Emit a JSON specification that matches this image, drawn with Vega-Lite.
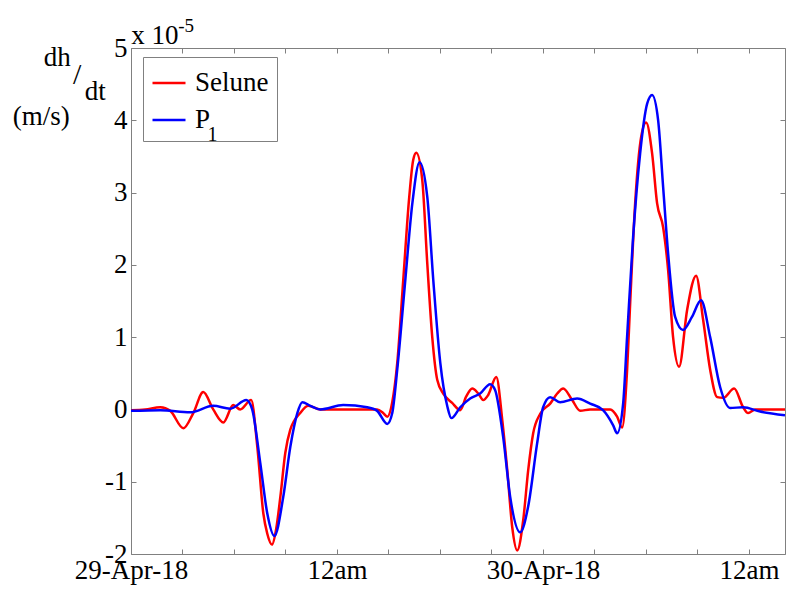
{
  "$schema": "https://vega.github.io/schema/vega-lite/v6.json",
  "width": 654,
  "height": 506,
  "autosize": {"type": "none"},
  "padding": {"left": 131, "top": 48, "right": 1, "bottom": 36},
  "background": "white",
  "config": {
    "font": "Liberation Serif",
    "view": {"stroke": null},
    "axis": {
      "grid": false,
      "domainColor": "#808080",
      "tickColor": "#808080",
      "labelColor": "black",
      "labelFont": "Liberation Serif",
      "labelFontSize": 27,
      "title": null
    }
  },
  "datasets": {
    "series": [
      {"hour": 0, "dhdt_1e5": -0.01, "series": "Selune"},
      {"hour": 0.83, "dhdt_1e5": 0.0, "series": "Selune"},
      {"hour": 1.71, "dhdt_1e5": 0.03, "series": "Selune"},
      {"hour": 2.29, "dhdt_1e5": -0.02, "series": "Selune"},
      {"hour": 3.05, "dhdt_1e5": -0.26, "series": "Selune"},
      {"hour": 3.63, "dhdt_1e5": -0.05, "series": "Selune"},
      {"hour": 4.21, "dhdt_1e5": 0.24, "series": "Selune"},
      {"hour": 4.79, "dhdt_1e5": 0.0, "series": "Selune"},
      {"hour": 5.38, "dhdt_1e5": -0.18, "series": "Selune"},
      {"hour": 5.96, "dhdt_1e5": 0.06, "series": "Selune"},
      {"hour": 6.36, "dhdt_1e5": 0.0, "series": "Selune"},
      {"hour": 7.0, "dhdt_1e5": 0.13, "series": "Selune"},
      {"hour": 7.36, "dhdt_1e5": -0.52, "series": "Selune"},
      {"hour": 7.71, "dhdt_1e5": -1.44, "series": "Selune"},
      {"hour": 7.94, "dhdt_1e5": -1.72, "series": "Selune"},
      {"hour": 8.21, "dhdt_1e5": -1.87, "series": "Selune"},
      {"hour": 8.46, "dhdt_1e5": -1.65, "series": "Selune"},
      {"hour": 8.7, "dhdt_1e5": -1.21, "series": "Selune"},
      {"hour": 8.99, "dhdt_1e5": -0.6, "series": "Selune"},
      {"hour": 9.28, "dhdt_1e5": -0.28, "series": "Selune"},
      {"hour": 9.86, "dhdt_1e5": -0.05, "series": "Selune"},
      {"hour": 10.33, "dhdt_1e5": 0.05, "series": "Selune"},
      {"hour": 11.03, "dhdt_1e5": 0.0, "series": "Selune"},
      {"hour": 14.34, "dhdt_1e5": 0.0, "series": "Selune"},
      {"hour": 14.69, "dhdt_1e5": -0.05, "series": "Selune"},
      {"hour": 14.93, "dhdt_1e5": -0.1, "series": "Selune"},
      {"hour": 15.22, "dhdt_1e5": 0.1, "series": "Selune"},
      {"hour": 15.51, "dhdt_1e5": 0.64, "series": "Selune"},
      {"hour": 15.86, "dhdt_1e5": 1.79, "series": "Selune"},
      {"hour": 16.21, "dhdt_1e5": 2.94, "series": "Selune"},
      {"hour": 16.44, "dhdt_1e5": 3.45, "series": "Selune"},
      {"hour": 16.62, "dhdt_1e5": 3.55, "series": "Selune"},
      {"hour": 16.97, "dhdt_1e5": 3.17, "series": "Selune"},
      {"hour": 17.26, "dhdt_1e5": 2.02, "series": "Selune"},
      {"hour": 17.55, "dhdt_1e5": 1.0, "series": "Selune"},
      {"hour": 17.84, "dhdt_1e5": 0.41, "series": "Selune"},
      {"hour": 18.19, "dhdt_1e5": 0.22, "series": "Selune"},
      {"hour": 18.71, "dhdt_1e5": 0.09, "series": "Selune"},
      {"hour": 19.18, "dhdt_1e5": -0.01, "series": "Selune"},
      {"hour": 19.53, "dhdt_1e5": 0.18, "series": "Selune"},
      {"hour": 19.88, "dhdt_1e5": 0.29, "series": "Selune"},
      {"hour": 20.23, "dhdt_1e5": 0.22, "series": "Selune"},
      {"hour": 20.52, "dhdt_1e5": 0.13, "series": "Selune"},
      {"hour": 20.81, "dhdt_1e5": 0.2, "series": "Selune"},
      {"hour": 21.28, "dhdt_1e5": 0.45, "series": "Selune"},
      {"hour": 21.63, "dhdt_1e5": -0.15, "series": "Selune"},
      {"hour": 21.92, "dhdt_1e5": -0.84, "series": "Selune"},
      {"hour": 22.21, "dhdt_1e5": -1.63, "series": "Selune"},
      {"hour": 22.5, "dhdt_1e5": -1.95, "series": "Selune"},
      {"hour": 22.85, "dhdt_1e5": -1.53, "series": "Selune"},
      {"hour": 23.14, "dhdt_1e5": -0.84, "series": "Selune"},
      {"hour": 23.43, "dhdt_1e5": -0.33, "series": "Selune"},
      {"hour": 23.84, "dhdt_1e5": -0.06, "series": "Selune"},
      {"hour": 24.42, "dhdt_1e5": 0.08, "series": "Selune"},
      {"hour": 24.83, "dhdt_1e5": 0.22, "series": "Selune"},
      {"hour": 25.18, "dhdt_1e5": 0.29, "series": "Selune"},
      {"hour": 25.7, "dhdt_1e5": 0.13, "series": "Selune"},
      {"hour": 26.17, "dhdt_1e5": -0.02, "series": "Selune"},
      {"hour": 26.75, "dhdt_1e5": 0.0, "series": "Selune"},
      {"hour": 27.92, "dhdt_1e5": 0.0, "series": "Selune"},
      {"hour": 28.32, "dhdt_1e5": -0.1, "series": "Selune"},
      {"hour": 28.61, "dhdt_1e5": -0.25, "series": "Selune"},
      {"hour": 28.9, "dhdt_1e5": 0.54, "series": "Selune"},
      {"hour": 29.08, "dhdt_1e5": 1.47, "series": "Selune"},
      {"hour": 29.37, "dhdt_1e5": 2.85, "series": "Selune"},
      {"hour": 29.72, "dhdt_1e5": 3.77, "series": "Selune"},
      {"hour": 30.01, "dhdt_1e5": 3.97, "series": "Selune"},
      {"hour": 30.36, "dhdt_1e5": 3.54, "series": "Selune"},
      {"hour": 30.65, "dhdt_1e5": 2.85, "series": "Selune"},
      {"hour": 31.0, "dhdt_1e5": 2.52, "series": "Selune"},
      {"hour": 31.29, "dhdt_1e5": 1.93, "series": "Selune"},
      {"hour": 31.58, "dhdt_1e5": 1.0, "series": "Selune"},
      {"hour": 31.93, "dhdt_1e5": 0.59, "series": "Selune"},
      {"hour": 32.4, "dhdt_1e5": 1.38, "series": "Selune"},
      {"hour": 32.92, "dhdt_1e5": 1.85, "series": "Selune"},
      {"hour": 33.33, "dhdt_1e5": 1.24, "series": "Selune"},
      {"hour": 33.74, "dhdt_1e5": 0.55, "series": "Selune"},
      {"hour": 34.15, "dhdt_1e5": 0.17, "series": "Selune"},
      {"hour": 34.5, "dhdt_1e5": 0.16, "series": "Selune"},
      {"hour": 35.14, "dhdt_1e5": 0.29, "series": "Selune"},
      {"hour": 35.66, "dhdt_1e5": 0.03, "series": "Selune"},
      {"hour": 35.95, "dhdt_1e5": -0.05, "series": "Selune"},
      {"hour": 36.36, "dhdt_1e5": 0.0, "series": "Selune"},
      {"hour": 38.1, "dhdt_1e5": 0.0, "series": "Selune"},
      {"hour": 0, "dhdt_1e5": -0.02, "series": "P1"},
      {"hour": 1.71, "dhdt_1e5": -0.01, "series": "P1"},
      {"hour": 3.45, "dhdt_1e5": -0.04, "series": "P1"},
      {"hour": 4.79, "dhdt_1e5": 0.05, "series": "P1"},
      {"hour": 5.78, "dhdt_1e5": 0.01, "series": "P1"},
      {"hour": 6.72, "dhdt_1e5": 0.13, "series": "P1"},
      {"hour": 7.06, "dhdt_1e5": 0.0, "series": "P1"},
      {"hour": 7.53, "dhdt_1e5": -0.74, "series": "P1"},
      {"hour": 7.94, "dhdt_1e5": -1.44, "series": "P1"},
      {"hour": 8.35, "dhdt_1e5": -1.75, "series": "P1"},
      {"hour": 8.87, "dhdt_1e5": -1.21, "series": "P1"},
      {"hour": 9.28, "dhdt_1e5": -0.52, "series": "P1"},
      {"hour": 9.69, "dhdt_1e5": -0.05, "series": "P1"},
      {"hour": 9.98, "dhdt_1e5": 0.1, "series": "P1"},
      {"hour": 10.45, "dhdt_1e5": 0.05, "series": "P1"},
      {"hour": 11.03, "dhdt_1e5": 0.0, "series": "P1"},
      {"hour": 12.36, "dhdt_1e5": 0.06, "series": "P1"},
      {"hour": 13.76, "dhdt_1e5": 0.03, "series": "P1"},
      {"hour": 14.34, "dhdt_1e5": -0.02, "series": "P1"},
      {"hour": 14.93, "dhdt_1e5": -0.2, "series": "P1"},
      {"hour": 15.22, "dhdt_1e5": -0.05, "series": "P1"},
      {"hour": 15.51, "dhdt_1e5": 0.55, "series": "P1"},
      {"hour": 15.98, "dhdt_1e5": 1.79, "series": "P1"},
      {"hour": 16.39, "dhdt_1e5": 2.85, "series": "P1"},
      {"hour": 16.81, "dhdt_1e5": 3.42, "series": "P1"},
      {"hour": 17.26, "dhdt_1e5": 2.94, "series": "P1"},
      {"hour": 17.61, "dhdt_1e5": 1.79, "series": "P1"},
      {"hour": 18.02, "dhdt_1e5": 0.64, "series": "P1"},
      {"hour": 18.43, "dhdt_1e5": 0.04, "series": "P1"},
      {"hour": 18.66, "dhdt_1e5": -0.12, "series": "P1"},
      {"hour": 19.18, "dhdt_1e5": 0.03, "series": "P1"},
      {"hour": 19.76, "dhdt_1e5": 0.15, "series": "P1"},
      {"hour": 20.34, "dhdt_1e5": 0.22, "series": "P1"},
      {"hour": 20.92, "dhdt_1e5": 0.35, "series": "P1"},
      {"hour": 21.21, "dhdt_1e5": 0.27, "series": "P1"},
      {"hour": 21.68, "dhdt_1e5": -0.38, "series": "P1"},
      {"hour": 22.09, "dhdt_1e5": -1.21, "series": "P1"},
      {"hour": 22.67, "dhdt_1e5": -1.7, "series": "P1"},
      {"hour": 23.14, "dhdt_1e5": -1.34, "series": "P1"},
      {"hour": 23.66, "dhdt_1e5": -0.47, "series": "P1"},
      {"hour": 24.01, "dhdt_1e5": 0.03, "series": "P1"},
      {"hour": 24.42, "dhdt_1e5": 0.17, "series": "P1"},
      {"hour": 25.0, "dhdt_1e5": 0.1, "series": "P1"},
      {"hour": 25.99, "dhdt_1e5": 0.15, "series": "P1"},
      {"hour": 26.75, "dhdt_1e5": 0.08, "series": "P1"},
      {"hour": 27.5, "dhdt_1e5": -0.01, "series": "P1"},
      {"hour": 28.09, "dhdt_1e5": -0.22, "series": "P1"},
      {"hour": 28.32, "dhdt_1e5": -0.33, "series": "P1"},
      {"hour": 28.67, "dhdt_1e5": 0.08, "series": "P1"},
      {"hour": 28.9, "dhdt_1e5": 1.0, "series": "P1"},
      {"hour": 29.25, "dhdt_1e5": 2.38, "series": "P1"},
      {"hour": 29.66, "dhdt_1e5": 3.54, "series": "P1"},
      {"hour": 30.07, "dhdt_1e5": 4.23, "series": "P1"},
      {"hour": 30.36, "dhdt_1e5": 4.35, "series": "P1"},
      {"hour": 30.71, "dhdt_1e5": 4.0, "series": "P1"},
      {"hour": 31.0, "dhdt_1e5": 3.08, "series": "P1"},
      {"hour": 31.29, "dhdt_1e5": 2.16, "series": "P1"},
      {"hour": 31.7, "dhdt_1e5": 1.28, "series": "P1"},
      {"hour": 32.16, "dhdt_1e5": 1.1, "series": "P1"},
      {"hour": 32.68, "dhdt_1e5": 1.28, "series": "P1"},
      {"hour": 33.21, "dhdt_1e5": 1.51, "series": "P1"},
      {"hour": 33.74, "dhdt_1e5": 1.0, "series": "P1"},
      {"hour": 34.32, "dhdt_1e5": 0.31, "series": "P1"},
      {"hour": 34.9, "dhdt_1e5": 0.02, "series": "P1"},
      {"hour": 35.66, "dhdt_1e5": 0.03, "series": "P1"},
      {"hour": 36.65, "dhdt_1e5": -0.03, "series": "P1"},
      {"hour": 38.1, "dhdt_1e5": -0.08, "series": "P1"}
    ],
    "one": [{}]
  },
  "layer": [
    {
      "data": {"name": "series"},
      "mark": {"type": "line", "interpolate": "monotone", "strokeWidth": 2.5, "clip": true},
      "encoding": {
        "x": {
          "field": "hour", "type": "quantitative",
          "scale": {"domain": [0, 38.1], "nice": false, "zero": false},
          "axis": {
            "orient": "bottom",
            "values": [0, 3, 6, 9, 12, 15, 18, 21, 24, 27, 30, 33, 36],
            "labelExpr": "datum.value == 0 ? '29-Apr-18' : datum.value == 24 ? '30-Apr-18' : (datum.value % 12 == 0 ? '12am' : '')",
            "tickSize": -5,
            "labelPadding": 8,
            "labelFlush": false,
            "labelOverlap": false
          }
        },
        "y": {
          "field": "dhdt_1e5", "type": "quantitative",
          "scale": {"domain": [-2, 5], "nice": false, "zero": false},
          "axis": {
            "orient": "left",
            "values": [-2, -1, 0, 1, 2, 3, 4, 5],
            "labelExpr": "datum.value < 0 ? '-' + abs(datum.value) : '' + datum.value",
            "tickSize": -5,
            "labelPadding": 9,
            "labelOverlap": false
          }
        },
        "color": {
          "field": "series", "type": "nominal",
          "scale": {"domain": ["Selune", "P1"], "range": ["#ff0000", "#0000ff"]},
          "legend": {
            "orient": "none",
            "legendX": 12,
            "legendY": 9,
            "title": null,
            "labelExpr": "datum.label == 'P1' ? 'P' : datum.label",
            "labelFont": "Liberation Serif",
            "labelFontSize": 27,
            "labelColor": "black",
            "labelOffset": 8,
            "symbolType": "stroke",
            "symbolSize": 1089,
            "symbolStrokeWidth": 2.5,
            "rowPadding": 6,
            "padding": 8,
            "strokeColor": "#808080"
          }
        }
      }
    },
    {
      "data": {"name": "one"},
      "mark": {"type": "text", "font": "Liberation Serif", "fontSize": 27, "align": "left", "baseline": "middle"},
      "encoding": {
        "x": {"datum": 0.02, "type": "quantitative",
          "axis": {"orient": "top", "labels": false, "values": [0, 3, 6, 9, 12, 15, 18, 21, 24, 27, 30, 33, 36], "tickSize": -5}},
        "y": {"datum": 5.16, "type": "quantitative",
          "axis": {"orient": "right", "labels": false, "values": [-2, -1, 0, 1, 2, 3, 4, 5], "tickSize": -5}},
        "text": {"value": "x 10"}
      }
    },
    {
      "data": {"name": "one"},
      "mark": {"type": "text", "font": "Liberation Serif", "fontSize": 19, "align": "left", "baseline": "middle"},
      "encoding": {
        "x": {"datum": 2.75, "type": "quantitative", "axis": null},
        "y": {"datum": 5.3, "type": "quantitative", "axis": null},
        "text": {"value": "-5"}
      }
    },
    {
      "data": {"name": "one"},
      "mark": {"type": "text", "font": "Liberation Serif", "fontSize": 27, "align": "center", "baseline": "middle"},
      "encoding": {
        "x": {"datum": -4.29, "type": "quantitative", "axis": null},
        "y": {"datum": 4.86, "type": "quantitative", "axis": null},
        "text": {"value": "dh"}
      }
    },
    {
      "data": {"name": "one"},
      "mark": {"type": "text", "font": "Liberation Serif", "fontSize": 30, "align": "center", "baseline": "middle"},
      "encoding": {
        "x": {"datum": -3.13, "type": "quantitative", "axis": null},
        "y": {"datum": 4.62, "type": "quantitative", "axis": null},
        "text": {"value": "/"}
      }
    },
    {
      "data": {"name": "one"},
      "mark": {"type": "text", "font": "Liberation Serif", "fontSize": 27, "align": "center", "baseline": "middle"},
      "encoding": {
        "x": {"datum": -2.08, "type": "quantitative", "axis": null},
        "y": {"datum": 4.39, "type": "quantitative", "axis": null},
        "text": {"value": "dt"}
      }
    },
    {
      "data": {"name": "one"},
      "mark": {"type": "text", "font": "Liberation Serif", "fontSize": 27, "align": "center", "baseline": "middle"},
      "encoding": {
        "x": {"datum": -5.23, "type": "quantitative", "axis": null},
        "y": {"datum": 4.04, "type": "quantitative", "axis": null},
        "text": {"value": "(m/s)"}
      }
    },
    {
      "data": {"name": "one"},
      "mark": {"type": "text", "font": "Liberation Serif", "fontSize": 20, "align": "left", "baseline": "middle"},
      "encoding": {
        "x": {"datum": 4.45, "type": "quantitative", "axis": null},
        "y": {"datum": 3.8, "type": "quantitative", "axis": null},
        "text": {"value": "1"}
      }
    }
  ],
  "resolve": {"axis": {"x": "independent", "y": "independent"}}
}
